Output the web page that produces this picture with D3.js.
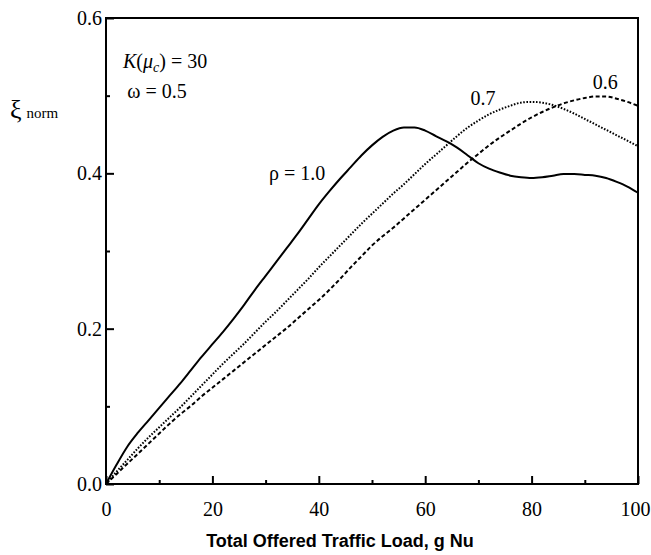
<!DOCTYPE html>
<html>
<head>
<meta charset="utf-8">
<script src="https://cdn.jsdelivr.net/npm/d3@7"></script>
<style>
  body { margin: 0; background: #fff; }
  svg text { font-family: "Liberation Serif", "DejaVu Serif", serif; fill: #000; }
  svg text.xTitle { font-family: "Liberation Sans", Arial, sans-serif; font-weight: bold; font-size: 18px; }
</style>
</head>
<body>
<div id="chart"><svg width="651" height="555"></svg></div>
<script>

// traffic load values shared by all three curves
const loads = [0, 2, 4, 6, 8, 10, 12, 14, 16, 18, 20, 22, 24, 26, 28, 30, 32, 34, 36, 38, 40,
    42, 44, 46, 48, 50, 52, 54, 56, 58, 60, 62, 64, 66, 68, 70, 72, 74, 76, 78, 80,
    82, 84, 86, 88, 90, 92, 94, 96, 98, 100];

// rho = 1.0 (solid)
const rho10 = [0, 0.025, 0.048, 0.066, 0.082, 0.098, 0.114, 0.130, 0.147, 0.164, 0.180,
    0.196, 0.213, 0.231, 0.250, 0.268, 0.286, 0.304, 0.322, 0.341, 0.360,
    0.377, 0.393, 0.408, 0.423, 0.436, 0.447, 0.455, 0.459, 0.459, 0.455,
    0.448, 0.441, 0.433, 0.423, 0.413, 0.406, 0.401, 0.397, 0.395, 0.394,
    0.395, 0.397, 0.399, 0.399, 0.398, 0.397, 0.394, 0.389, 0.383, 0.375];

// rho = 0.7 (dotted)
const rho07 = [0, 0.016, 0.031, 0.046, 0.060, 0.073, 0.086, 0.099, 0.113, 0.127, 0.141,
    0.155, 0.168, 0.181, 0.195, 0.209, 0.222, 0.236, 0.250, 0.264, 0.279,
    0.293, 0.307, 0.321, 0.335, 0.348, 0.361, 0.374, 0.386, 0.399, 0.412,
    0.424, 0.436, 0.448, 0.459, 0.468, 0.476, 0.482, 0.487, 0.491, 0.492,
    0.491, 0.488, 0.483, 0.477, 0.470, 0.463, 0.456, 0.449, 0.442, 0.435];

// rho = 0.6 (dashed)
const rho06 = [0, 0.013, 0.026, 0.039, 0.052, 0.065, 0.078, 0.090, 0.101, 0.113, 0.124,
    0.135, 0.146, 0.157, 0.168, 0.179, 0.190, 0.201, 0.213, 0.225, 0.237,
    0.250, 0.264, 0.279, 0.293, 0.307, 0.319, 0.330, 0.342, 0.354, 0.366,
    0.378, 0.390, 0.402, 0.414, 0.425, 0.436, 0.446, 0.455, 0.464, 0.472,
    0.479, 0.485, 0.490, 0.494, 0.497, 0.499, 0.499, 0.496, 0.492, 0.487];

const xTicks = [0, 20, 40, 60, 80, 100];
const xMinor = [10, 30, 50, 70, 90];
const yTicks = [0.0, 0.2, 0.4, 0.6];
const yMinor = [0.1, 0.3, 0.5];

/**********************
***** BASIC SETUP *****
**********************/

const svg = d3.select("#chart").select("svg");
const margin = {top: 18, left: 106, right: 13, bottom: 71};
const width = 651, height = 555;
const plotWidth = width - margin.left - margin.right;
const plotHeight = height - margin.top - margin.bottom;

const xScale = d3.scaleLinear().domain([0, 100]).range([0, plotWidth]);
const yScale = d3.scaleLinear().domain([0, 0.6]).range([plotHeight, 0]);

const plot = svg.append("g")
    .attr("transform", `translate(${margin.left}, ${margin.top})`);

const SERIF = '"Liberation Serif", "DejaVu Serif", serif';

/*****************
***** FRAME ******
*****************/

plot.append("rect")
    .attr("x", 0).attr("y", 0)
    .attr("width", plotWidth).attr("height", plotHeight)
    .attr("fill", "none")
    .attr("stroke", "#000")
    .attr("stroke-width", 2);

/*********************
***** X & Y AXES *****
*********************/

// ticks point into the plot, minor ones are shorter
const xAxis = plot.append("g")
    .attr("transform", `translate(0, ${plotHeight})`)
    .call(d3.axisBottom(xScale).tickValues(xTicks).tickSize(-8).tickPadding(14)
        .tickFormat(d3.format("d")));
plot.append("g")
    .attr("transform", `translate(0, ${plotHeight})`)
    .call(d3.axisBottom(xScale).tickValues(xMinor).tickSize(-4).tickFormat(""));

const yAxis = plot.append("g")
    .call(d3.axisLeft(yScale).tickValues(yTicks).tickSize(-8).tickPadding(14)
        .tickFormat(d3.format(".1f")));
plot.append("g")
    .call(d3.axisLeft(yScale).tickValues(yMinor).tickSize(-4).tickFormat(""));

plot.selectAll(".domain").remove();
plot.selectAll("g").attr("font-family", SERIF).attr("font-size", 20);
plot.selectAll(".tick line").attr("stroke", "#000").attr("stroke-width", 2);
plot.selectAll(".tick text").style("font-family", SERIF).style("font-size", "20px");
xAxis.selectAll(".tick text").attr("dy", "0.9em")
    .attr("x", d => d === 100 ? -3 : 0);
yAxis.selectAll(".tick text").attr("x", -4);

/****************
***** LINES *****
*****************/

const series = [
    {name: "1.0", values: rho10, dash: null},
    {name: "0.7", values: rho07, dash: "1.6,1.6"},
    {name: "0.6", values: rho06, dash: "4,2.5"}
];

const line = d3.line()
    .curve(d3.curveMonotoneX)
    .x((d, i) => xScale(loads[i]))
    .y(d => yScale(d));

series.forEach(s => {
    plot.append("path")
        .datum(s.values)
        .attr("fill", "none")
        .attr("stroke", "#000")
        .attr("stroke-width", 2)
        .attr("stroke-dasharray", s.dash)
        .attr("d", line);
});

/**********************
***** LINE LABELS *****
**********************/

plot.append("text")
    .attr("x", xScale(41.2)).attr("y", yScale(0.392))
    .attr("text-anchor", "end")
    .style("font-size", "20px")
    .text("ρ = 1.0");

plot.append("text")
    .attr("x", xScale(68.5)).attr("y", yScale(0.488))
    .style("font-size", "20px")
    .text("0.7");

plot.append("text")
    .attr("x", xScale(91.5)).attr("y", yScale(0.508))
    .style("font-size", "20px")
    .text("0.6");

// parameter annotations top left
const note = plot.append("text")
    .attr("x", xScale(3.2)).attr("y", yScale(0.535))
    .style("font-size", "20px");
note.append("tspan").style("font-style", "italic").text("K");
note.append("tspan").text("(");
note.append("tspan").style("font-style", "italic").text("μ");
note.append("tspan").style("font-style", "italic").style("font-size", "14px")
    .attr("dy", 4).text("c");
note.append("tspan").attr("dy", -4).text(") = 30");

plot.append("text")
    .attr("x", xScale(4)).attr("y", yScale(0.497))
    .style("font-size", "20px")
    .text("ω = 0.5");

/*************************
***** AXIS TITLES *****
*************************/

const yTitle = svg.append("text")
    .attr("x", 10).attr("y", 118);
yTitle.append("tspan").style("font-size", "26px").text("ξ");
yTitle.append("tspan").attr("dx", 5).style("font-size", "15px").text("norm");

svg.append("text")
    .attr("class", "xTitle")
    .attr("x", 340).attr("y", 547)
    .attr("text-anchor", "middle")
    .text("Total Offered Traffic Load, g Nu");

</script>
</body>
</html>
